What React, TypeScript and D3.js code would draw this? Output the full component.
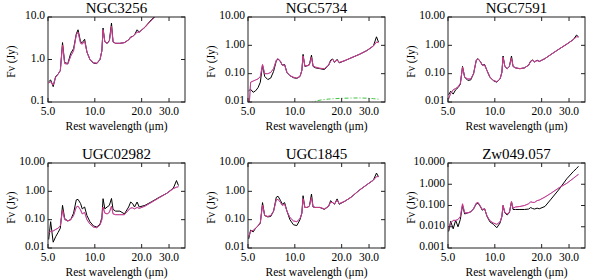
import React from 'react';
import * as d3 from 'd3';

// rest wavelength grid (micron) shared by every spectrum
const wave = [5.05, 5.2, 5.4, 5.6, 5.8, 6.0, 6.2, 6.4, 6.7, 7.0, 7.3, 7.6, 7.8, 8.1, 8.3, 8.6, 8.9, 9.3, 9.8, 10.3,
    10.8, 11.1, 11.3, 11.6, 12.0, 12.4, 12.8, 13.1, 13.6, 14.5, 15.5, 16.5, 17.0, 17.5, 18.0, 18.7, 19.3, 21.0, 23.0,
    26.0, 29.0, 32.0, 33.5, 34.5];

// observed (black) and fitted (red / blue) flux densities in Jy
const ngc3256Obs = [0.30, 0.33, 0.23, 0.40, 0.45, 0.55, 2.5, 0.85, 0.80, 1.4, 1.8, 4.0, 5.0, 2.6, 2.5, 3.0, 1.5, 1.0,
    0.82, 0.80, 1.0, 1.6, 5.5, 2.6, 2.4, 2.8, 7.2, 2.6, 2.4, 2.4, 2.5, 2.9, 3.4, 3.5, 3.8, 5.0, 4.4, 5.8, 8.5, 13, 17,
    22, 26, 27];
const ngc3256Model = [0.28, 0.30, 0.25, 0.38, 0.45, 0.55, 2.2, 0.80, 0.78, 1.2, 1.6, 3.8, 4.4, 2.4, 2.3, 2.7, 1.5,
    1.0, 0.84, 0.82, 1.0, 1.6, 5.0, 2.6, 2.4, 2.7, 6.0, 2.6, 2.4, 2.4, 2.5, 2.9, 3.3, 3.5, 3.8, 4.4, 4.4, 5.7, 8.2,
    12.5, 17, 22, 24, 26];

const ngc5734Obs = [0.025, 0.028, 0.022, 0.025, 0.032, 0.05, 0.20, 0.08, 0.062, 0.07, 0.12, 0.28, 0.33, 0.26, 0.2,
    0.21, 0.11, 0.085, 0.072, 0.068, 0.08, 0.13, 0.48, 0.18, 0.19, 0.21, 0.45, 0.18, 0.16, 0.15, 0.14, 0.2, 0.3, 0.33,
    0.25, 0.32, 0.24, 0.29, 0.36, 0.48, 0.65, 0.95, 2.0, 1.3];
const ngc5734Model = [0.004, 0.05, 0.055, 0.06, 0.065, 0.08, 0.21, 0.10, 0.10, 0.11, 0.15, 0.30, 0.34, 0.27, 0.2,
    0.2, 0.11, 0.085, 0.075, 0.07, 0.08, 0.13, 0.42, 0.19, 0.19, 0.2, 0.38, 0.19, 0.17, 0.155, 0.15, 0.2, 0.28, 0.32,
    0.26, 0.3, 0.25, 0.29, 0.36, 0.48, 0.65, 0.95, 1.3, 1.25];

// warm dust component of NGC5734 (green dash-dot)
const warmWave = [12.5, 13.0, 14.0, 15.0, 16.5, 18.0, 20.0, 23.0, 26.0, 29.0, 32.0, 34.5];
const warmFlux = [0.008, 0.0098, 0.0112, 0.012, 0.0127, 0.0131, 0.0135, 0.0138, 0.0139, 0.0136, 0.0131, 0.0126];

const ngc7591Obs = [0.018, 0.024, 0.019, 0.027, 0.032, 0.042, 0.18, 0.075, 0.058, 0.06, 0.1, 0.3, 0.34, 0.26, 0.2,
    0.21, 0.13, 0.075, 0.056, 0.05, 0.065, 0.11, 0.42, 0.18, 0.15, 0.18, 0.42, 0.18, 0.16, 0.15, 0.16, 0.2, 0.28, 0.3,
    0.26, 0.3, 0.27, 0.34, 0.48, 0.75, 1.1, 1.6, 2.3, 2.0];
const ngc7591Model = [0.013, 0.02, 0.027, 0.03, 0.034, 0.045, 0.17, 0.075, 0.065, 0.065, 0.1, 0.3, 0.33, 0.26, 0.2,
    0.2, 0.13, 0.075, 0.058, 0.052, 0.065, 0.11, 0.38, 0.18, 0.15, 0.18, 0.36, 0.18, 0.16, 0.15, 0.16, 0.2, 0.27, 0.3,
    0.26, 0.29, 0.27, 0.34, 0.48, 0.75, 1.1, 1.6, 2.0, 2.0];

const ugc02982Obs = [0.02, 0.085, 0.016, 0.025, 0.035, 0.05, 0.32, 0.11, 0.09, 0.1, 0.17, 0.5, 0.52, 0.37, 0.24, 0.28,
    0.14, 0.085, 0.06, 0.055, 0.07, 0.12, 0.55, 0.24, 0.28, 0.32, 0.56, 0.23, 0.2, 0.2, 0.16, 0.28, 0.42, 0.37, 0.28,
    0.42, 0.28, 0.32, 0.42, 0.62, 0.85, 1.3, 2.4, 1.6];
const ugc02982Model = [0.035, 0.038, 0.04, 0.045, 0.05, 0.06, 0.22, 0.1, 0.09, 0.1, 0.14, 0.28, 0.3, 0.22, 0.16, 0.18,
    0.1, 0.07, 0.055, 0.052, 0.065, 0.1, 0.28, 0.17, 0.16, 0.18, 0.3, 0.16, 0.15, 0.15, 0.15, 0.22, 0.26, 0.26, 0.24,
    0.27, 0.25, 0.3, 0.4, 0.6, 0.85, 1.25, 1.4, 1.45];

const ugc1845Obs = [0.021, 0.043, 0.037, 0.05, 0.06, 0.075, 0.4, 0.14, 0.125, 0.13, 0.2, 0.62, 0.67, 0.47, 0.35, 0.4,
    0.2, 0.1, 0.066, 0.062, 0.1, 0.17, 0.7, 0.27, 0.27, 0.3, 0.8, 0.28, 0.27, 0.27, 0.23, 0.3, 0.47, 0.4, 0.35, 0.54,
    0.35, 0.45, 0.62, 1.1, 1.7, 2.5, 4.4, 3.3];
const ugc1845Model = [0.025, 0.04, 0.042, 0.05, 0.06, 0.08, 0.33, 0.14, 0.13, 0.14, 0.2, 0.5, 0.52, 0.4, 0.32, 0.35,
    0.2, 0.12, 0.09, 0.085, 0.11, 0.17, 0.55, 0.27, 0.27, 0.3, 0.6, 0.28, 0.27, 0.27, 0.24, 0.3, 0.42, 0.4, 0.36, 0.48,
    0.37, 0.45, 0.62, 1.1, 1.7, 2.5, 3.3, 3.3];

const zw049Obs = [0.006, 0.018, 0.008, 0.02, 0.01, 0.022, 0.1, 0.04, 0.045, 0.05, 0.07, 0.12, 0.13, 0.085, 0.06, 0.07,
    0.031, 0.017, 0.013, 0.009, 0.015, 0.03, 0.1, 0.045, 0.036, 0.045, 0.15, 0.065, 0.065, 0.065, 0.065, 0.068, 0.08,
    0.072, 0.068, 0.075, 0.07, 0.09, 0.2, 0.6, 1.8, 4.0, 5.5, 7.0];
const zw049Model = [0.008, 0.015, 0.02, 0.02, 0.022, 0.03, 0.12, 0.045, 0.045, 0.05, 0.07, 0.13, 0.14, 0.09, 0.065,
    0.07, 0.033, 0.019, 0.015, 0.013, 0.017, 0.03, 0.1, 0.047, 0.04, 0.047, 0.15, 0.075, 0.085, 0.09, 0.1, 0.12, 0.15,
    0.14, 0.14, 0.17, 0.18, 0.25, 0.38, 0.7, 1.1, 1.9, 2.5, 2.9];

// tick labels
const xTickLabels = ['5.0', '10.0', '20.0', '30.0'];
const yLabels1 = ['0.1', '1.0', '10.0'];
const yLabels2 = ['0.01', '0.10', '1.00', '10.00'];
const yLabels3 = ['0.001', '0.010', '0.100', '1.000', '10.000'];

const names = ['NGC3256', 'NGC5734', 'NGC7591', 'UGC02982', 'UGC1845', 'Zw049.057'];
const observed = [ngc3256Obs, ngc5734Obs, ngc7591Obs, ugc02982Obs, ugc1845Obs, zw049Obs];
const models = [ngc3256Model, ngc5734Model, ngc7591Model, ugc02982Model, ugc1845Model, zw049Model];
const yLabelSets = [yLabels1, yLabels2, yLabels2, yLabels2, yLabels2, yLabels3];

const FONT = '"Liberation Serif", "Times New Roman", serif';

// frame geometry of each panel
const frame = (i: number) => {
    const col = i % 3;
    const row = Math.floor(i / 3);
    const x0 = 48 + 200 * col;
    const y0 = 17 + 146 * row;
    return { x0, x1: x0 + 137, y0, y1: y0 + 85 };
};

const Panel = ({ i }: { i: number }) => {
    const { x0, x1, y0, y1 } = frame(i);
    const yLabels = yLabelSets[i];
    const yTicks = yLabels.map((d) => +d);
    const x = d3.scaleLog().domain([5, 38]).range([x0, x1]);
    const y = d3.scaleLog().domain([yTicks[0], 10]).range([y1, y0]);
    const line = d3.line<number>()
        .x((d, k) => x(wave[k]))
        .y((d) => y(Math.max(d, 1e-5)));
    const warmLine = d3.line<number>()
        .x((d, k) => x(warmWave[k]))
        .y((d) => y(d));
    const clipId = `clip${i}`;
    const tick = 4;

    return (
        <g>
            <clipPath id={clipId}>
                <rect x={x0} y={y0} width={x1 - x0} height={y1 - y0} />
            </clipPath>
            <text x={(x0 + x1) / 2} y={y0 - 4} textAnchor="middle" fontSize={15}>{names[i]}</text>
            <g clipPath={`url(#${clipId})`} fill="none" strokeWidth={1}>
                {i === 1 && (
                    <path d={warmLine(warmFlux) || ''} stroke="#3fc43f" strokeDasharray="4,2,1,2" />
                )}
                <path d={line(observed[i]) || ''} stroke="#000" />
                <path d={line(models[i]) || ''} stroke="#7a5cff" />
                <path d={line(models[i]) || ''} stroke="#ff2a3a" strokeOpacity={0.65} />
            </g>
            <rect x={x0} y={y0} width={x1 - x0} height={y1 - y0} fill="none" stroke="#222" strokeWidth={1} />
            {xTickLabels.map((t) => {
                const px = x(+t);
                return (
                    <g key={t}>
                        <line x1={px} x2={px} y1={y1} y2={y1 - tick} stroke="#222" />
                        <line x1={px} x2={px} y1={y0} y2={y0 + tick} stroke="#222" />
                        <text x={px} y={y1 + 13} textAnchor="middle" fontSize={11.5}>{t}</text>
                    </g>
                );
            })}
            {yLabels.map((t) => {
                const py = y(+t);
                return (
                    <g key={t}>
                        <line x1={x0} x2={x0 + tick} y1={py} y2={py} stroke="#222" />
                        <line x1={x1} x2={x1 - tick} y1={py} y2={py} stroke="#222" />
                        <text x={x0 - 3} y={py} dy="0.2em" textAnchor="end" fontSize={11.5}>{t}</text>
                    </g>
                );
            })}
            <text x={(x0 + x1) / 2} y={y1 + 28} textAnchor="middle" fontSize={11.5}>Rest wavelength (μm)</text>
            <text
                transform={`translate(${x0 - 33},${(y0 + y1) / 2 + 2}) rotate(-90)`}
                textAnchor="middle"
                fontSize={11.5}
            >
                Fν (Jy)
            </text>
        </g>
    );
};

const App = () => (
    <svg
        width={600}
        height={280}
        style={{ position: 'absolute', left: 0, top: 0, background: '#fff' }}
        fontFamily={FONT}
    >
        {names.map((n, i) => <Panel key={n} i={i} />)}
    </svg>
);

export default App;
